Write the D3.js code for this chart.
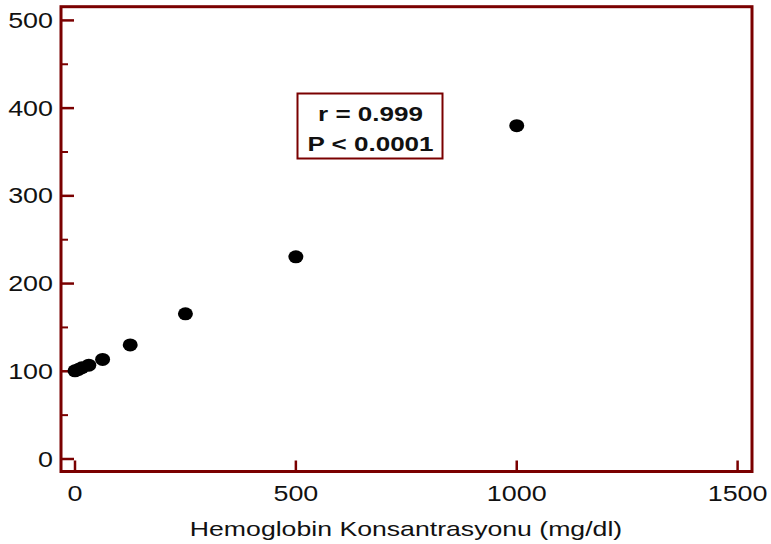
<!DOCTYPE html>
<html><head><meta charset="utf-8">
<script src="https://cdn.jsdelivr.net/npm/d3@7"></script>
<style>html,body{margin:0;padding:0;background:#fff;}svg{display:block;}</style>
</head><body>
<svg id="chart" width="771" height="544"></svg>
<script>
const concentration = [0, 7.8, 15.6, 31.25, 62.5, 125, 250, 500, 1000];
const signal = [100.5, 102, 104, 107, 113.5, 130, 165.5, 230.5, 380];
const xTicks = [0, 500, 1000, 1500];
const yTicks = [0, 100, 200, 300, 400, 500];
const yMinorTicks = [50, 150, 250, 350, 450];
const xTitle = "Hemoglobin Konsantrasyonu (mg/dl)";
const statLines = ["r = 0.999", "P < 0.0001"];

const frameColor = "#7a0000";
const svg = d3.select("#chart");
const x = d3.scaleLinear().domain([0, 1500]).range([75, 737.6]);
const y = d3.scaleLinear().domain([0, 500]).range([459, 20.4]);
const L = 61, R = 752, T = 6.7, B = 471.5;
const stretch = 1.25;

// frame
svg.append("rect").attr("x", L).attr("y", T).attr("width", R - L).attr("height", B - T)
  .attr("fill", "none").attr("stroke", frameColor).attr("stroke-width", 3);

// y axis ticks
svg.selectAll(".ymaj").data(yTicks).join("line")
  .attr("x1", L).attr("x2", L + 13).attr("y1", d => y(d)).attr("y2", d => y(d))
  .attr("stroke", frameColor).attr("stroke-width", 2.5);
svg.selectAll(".ymin").data(yMinorTicks).join("line")
  .attr("x1", L).attr("x2", L + 7).attr("y1", d => y(d)).attr("y2", d => y(d))
  .attr("stroke", frameColor).attr("stroke-width", 2);
svg.selectAll(".ylab").data(yTicks).join("text")
  .attr("transform", d => `translate(53,${y(d)}) scale(${stretch},1)`)
  .attr("text-anchor", "end").attr("dominant-baseline", "central")
  .attr("font-family", "Liberation Sans, Arial, sans-serif").attr("font-size", 21.5)
  .attr("fill", "#111").text(d => d);

// x axis ticks
svg.selectAll(".xmaj").data(xTicks).join("line")
  .attr("x1", d => x(d)).attr("x2", d => x(d)).attr("y1", B).attr("y2", B - 11)
  .attr("stroke", frameColor).attr("stroke-width", 2.5);
svg.selectAll(".xlab").data(xTicks).join("text")
  .attr("transform", d => `translate(${x(d)},${501}) scale(${stretch},1)`)
  .attr("text-anchor", "middle")
  .attr("font-family", "Liberation Sans, Arial, sans-serif").attr("font-size", 21.5)
  .attr("fill", "#111").text(d => d);

svg.append("text")
  .attr("transform", `translate(406,535.5) scale(1.3,1)`)
  .attr("text-anchor", "middle")
  .attr("font-family", "Liberation Sans, Arial, sans-serif").attr("font-size", 20.5)
  .attr("fill", "#111").text(xTitle);

// points
svg.selectAll(".pt").data(concentration.map((c, i) => [c, signal[i]])).join("ellipse")
  .attr("cx", d => x(d[0])).attr("cy", d => y(d[1]))
  .attr("rx", 7.5).attr("ry", 6.5).attr("fill", "#000");

// stats box
svg.append("rect").attr("x", 297.5).attr("y", 93.5).attr("width", 145).attr("height", 65)
  .attr("fill", "#fff").attr("stroke", frameColor).attr("stroke-width", 2);
svg.selectAll(".stat").data(statLines).join("text")
  .attr("transform", (d, i) => `translate(370.5,${121 + i * 30}) scale(1.27,1)`)
  .attr("text-anchor", "middle").attr("font-weight", "bold")
  .attr("font-family", "Liberation Sans, Arial, sans-serif").attr("font-size", 20.5)
  .attr("fill", "#111").text(d => d);
</script>
</body></html>
